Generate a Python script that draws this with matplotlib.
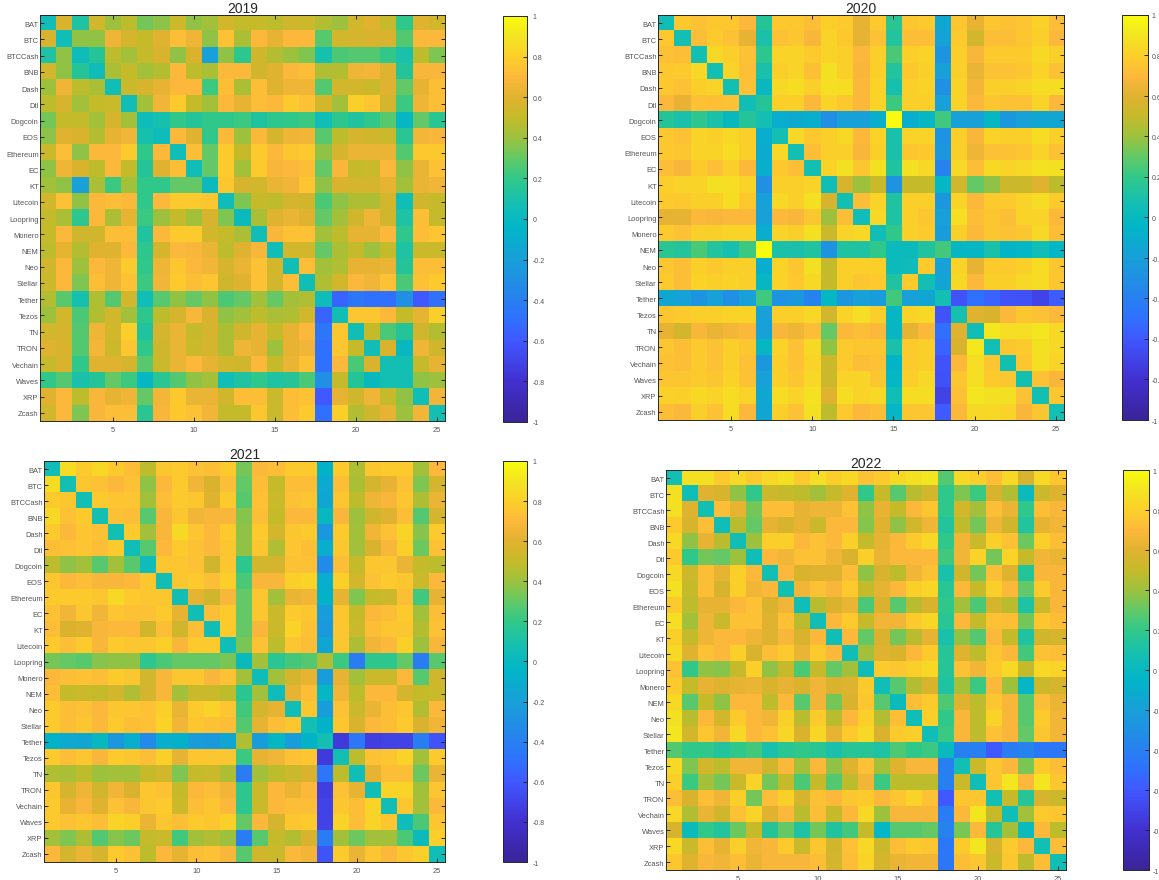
import numpy as np
import matplotlib
matplotlib.use('Agg')
import matplotlib.pyplot as plt
from matplotlib.colors import LinearSegmentedColormap
from matplotlib.transforms import ScaledTranslation

plt.rcParams['font.family'] = ['Liberation Sans', 'DejaVu Sans']

coins = ['BAT', 'BTC', 'BTCCash', 'BNB', 'Dash', 'Dtl', 'Dogcoin', 'EOS', 'Ethereum', 'EC', 'KT', 'Litecoin',
         'Loopring', 'Monero', 'NEM', 'Neo', 'Stellar', 'Tether', 'Tezos', 'TN', 'TRON', 'Vechain', 'Waves',
         'XRP', 'Zcash']
years = ['2019', '2020', '2021', '2022']
colorbar_ticks = [-1, -0.8, -0.6, -0.4, -0.2, 0, 0.2, 0.4, 0.6, 0.8, 1]
colorbar_labels = ['-1', '-0.8', '-0.6', '-0.4', '-0.2', '0', '0.2', '0.4', '0.6', '0.8', '1']

# upper triangle of each matrix, every row starts on the diagonal
corr_2019 = [
    [.05, .58, .12, .55, .40, .48, .33, .37, .53, .38, .42, .55, .50, .50, .48, .54, .53, .46, .40, .55, .60, .50, .20, .60, .55],
    [.05, .38, .38, .65, .57, .50, .60, .72, .65, .38, .74, .43, .70, .62, .70, .70, .28, .55, .56, .58, .58, .27, .70, .70],
    [.04, .15, .48, .42, .50, .58, .38, .58, -.20, .38, .18, .54, .46, .40, .35, .08, .25, .27, .27, .20, .10, .48, .35],
    [.04, .43, .50, .42, .46, .70, .48, .43, .70, .70, .54, .60, .70, .72, .45, .46, .65, .67, .60, .15, .68, .68],
    [.05, .52, .57, .63, .70, .70, .22, .72, .43, .72, .60, .65, .65, .27, .55, .55, .52, .60, .30, .62, .72],
    [.06, .42, .66, .78, .50, .42, .70, .62, .72, .70, .78, .74, .55, .42, .80, .75, .56, .22, .65, .72],
    [.04, .08, .20, .15, .20, .20, .22, .13, .18, .20, .22, .05, .18, .13, .20, .28, -.02, .30, .17],
    [.04, .70, .60, .20, .70, .40, .70, .56, .65, .66, .28, .48, .56, .54, .52, .17, .67, .68],
    [.05, .72, .30, .78, .50, .78, .70, .76, .78, .38, .57, .64, .64, .64, .27, .77, .77],
    [.05, .30, .78, .42, .78, .68, .70, .72, .30, .68, .50, .52, .70, .38, .64, .74],
    [.03, .76, .57, .55, .64, .66, .75, .38, .58, .56, .56, .62, .42, .64, .66],
    [.04, .35, .50, .48, .56, .54, .25, .38, .44, .44, .55, .05, .54, .50],
    [.03, .43, .60, .64, .60, .30, .42, .54, .65, .54, .12, .72, .50],
    [.05, .68, .74, .74, .42, .48, .62, .62, .70, .20, .72, .76],
    [.05, .55, .55, .30, .43, .50, .40, .50, .12, .52, .52],
    [.06, .72, .42, .45, .63, .63, .64, .15, .72, .72],
    [.06, .45, .55, .70, .66, .74, .25, .74, .78],
    [.04, -.55, -.45, -.50, -.50, -.30, -.60, -.50],
    [.06, .76, .76, .70, .50, .62, .80],
    [.06, .50, .25, .15, .54, .46],
    [.06, .58, .00, .65, .54],
    [.07, .07, .50, .62],
    [.07, .38, .40],
    [.05, .66],
    [.07],
]

corr_2020 = [
    [.05, .77, .74, .77, .77, .70, .15, .77, .77, .72, .79, .78, .62, .78, .17, .76, .78, -.15, .76, .63, .76, .74, .75, .81, .72],
    [.07, .72, .78, .74, .63, .10, .74, .76, .68, .82, .77, .62, .74, .14, .72, .72, -.18, .78, .55, .72, .72, .76, .80, .70],
    [.07, .84, .80, .74, .18, .82, .82, .78, .82, .80, .70, .80, .25, .80, .82, -.27, .80, .68, .78, .78, .78, .85, .80],
    [.07, .82, .73, .10, .80, .82, .73, .88, .80, .68, .80, .14, .77, .80, -.20, .80, .64, .74, .74, .76, .82, .74],
    [.07, .74, .00, .84, .86, .80, .87, .86, .70, .82, .08, .80, .82, -.30, .82, .67, .80, .80, .82, .86, .86],
    [.06, .15, .80, .80, .70, .82, .77, .70, .82, .22, .80, .80, -.20, .82, .70, .76, .74, .74, .82, .70],
    [.07, -.10, -.12, -.10, -.30, -.20, -.20, -.10, 1.0, -.10, -.02, .23, -.20, -.20, -.02, -.25, -.20, -.15, -.15],
    [.07, .84, .77, .80, .84, .70, .82, .10, .82, .82, -.28, .80, .68, .82, .80, .80, .86, .80],
    [.07, .72, .80, .80, .68, .80, .10, .76, .77, -.25, .80, .65, .74, .74, .76, .82, .74],
    [.07, .82, .88, .76, .88, .13, .88, .84, -.38, .84, .72, .85, .82, .84, .89, .88],
    [.05, .57, .40, .52, -.28, .50, .50, -.03, .55, .30, .38, .53, .53, .60, .48],
    [.07, .72, .82, .13, .80, .80, -.25, .82, .70, .78, .78, .82, .86, .78],
    [.05, .84, .12, .80, .76, -.20, .87, .72, .76, .72, .82, .82, .70],
    [.05, .20, .80, .78, -.22, .80, .70, .76, .74, .76, .84, .72],
    [.02, .03, .13, .24, -.02, -.02, .10, -.04, -.03, .05, -.03],
    [.04, .78, -.20, .82, .62, .78, .78, .80, .86, .76],
    [.07, -.16, .84, .70, .80, .80, .84, .86, .76],
    [.07, -.62, -.50, -.55, -.62, -.63, -.70, -.58],
    [.08, .60, .58, .70, .76, .74, .70],
    [.06, .92, .87, .87, .90, .84],
    [.07, .76, .78, .88, .84],
    [.07, .76, .88, .82],
    [.07, .74, .68],
    [.07, .76],
    [.07],
]

corr_2021 = [
    [.05, .86, .78, .85, .78, .72, .48, .76, .78, .74, .72, .78, .33, .70, .72, .78, .78, -.05, .78, .45, .76, .78, .78, .42, .70],
    [.07, .76, .74, .70, .74, .38, .70, .78, .66, .58, .72, .30, .72, .50, .72, .72, -.13, .72, .43, .56, .63, .74, .35, .56],
    [.07, .78, .75, .75, .42, .72, .78, .76, .60, .78, .28, .74, .52, .74, .76, -.15, .76, .48, .65, .68, .76, .44, .64],
    [.07, .74, .72, .28, .68, .76, .66, .68, .68, .36, .72, .50, .70, .70, .00, .68, .40, .54, .60, .72, .27, .56],
    [.07, .78, .42, .68, .85, .75, .70, .78, .38, .78, .55, .76, .78, -.25, .78, .42, .66, .74, .82, .36, .78],
    [.05, .28, .70, .78, .74, .70, .76, .38, .76, .45, .75, .72, -.10, .76, .42, .58, .68, .80, .32, .74],
    [.04, .76, .76, .74, .54, .76, .18, .55, .56, .74, .74, -.33, .72, .50, .76, .76, .64, .50, .48],
    [.06, .76, .78, .72, .80, .25, .68, .68, .80, .82, -.10, .80, .55, .74, .78, .76, .52, .70],
    [.06, .62, .54, .68, .30, .76, .42, .64, .66, -.07, .62, .35, .50, .53, .72, .23, .62],
    [.06, .72, .78, .30, .76, .52, .78, .76, -.22, .76, .50, .70, .72, .78, .42, .72],
    [.06, .78, .30, .68, .52, .82, .74, -.24, .76, .52, .72, .76, .76, .46, .74],
    [.05, .34, .74, .48, .75, .72, -.15, .76, .44, .66, .70, .80, .40, .68],
    [.01, .42, .17, .24, .27, .45, .22, -.42, .18, .18, .30, -.42, .28],
    [.04, .42, .56, .62, -.22, .62, .42, .52, .52, .70, .28, .54],
    [.04, .62, .72, -.02, .66, .48, .70, .70, .56, .50, .52],
    [.06, .76, -.22, .74, .52, .64, .72, .76, .46, .70],
    [.07, -.05, .76, .58, .70, .72, .78, .58, .66],
    [.07, -.75, -.45, -.72, -.70, -.70, -.42, -.62],
    [.07, .48, .74, .76, .82, .42, .78],
    [.05, .62, .72, .72, .32, .64],
    [.06, .82, .82, .42, .76],
    [.06, .76, .42, .70],
    [.04, .25, .76],
    [.03, .80],
    [.05],
]

corr_2022 = [
    [.07, .88, .88, .78, .84, .78, .84, .88, .78, .87, .80, .85, .74, .78, .85, .88, .90, .27, .84, .80, .72, .84, .57, .85, .76],
    [.05, .60, .57, .38, .20, .53, .50, .48, .42, .50, .60, .20, .50, .28, .47, .55, .20, .35, .22, .58, .45, .03, .52, .60],
    [.07, .72, .62, .33, .72, .72, .62, .65, .65, .74, .38, .63, .50, .70, .76, .20, .55, .42, .72, .64, .20, .72, .68],
    [.06, .47, .30, .62, .57, .63, .52, .70, .70, .36, .60, .38, .55, .66, .14, .48, .33, .65, .54, .14, .62, .66],
    [.06, .40, .80, .80, .70, .74, .70, .80, .50, .62, .70, .78, .84, .20, .66, .52, .80, .74, .32, .80, .72],
    [.05, .70, .66, .74, .74, .65, .58, .80, .64, .70, .70, .70, .24, .66, .82, .33, .82, .50, .66, .64],
    [.07, .70, .58, .60, .60, .72, .38, .58, .48, .66, .74, .10, .54, .33, .72, .60, .15, .68, .68],
    [.07, .66, .74, .68, .78, .50, .62, .70, .80, .83, .17, .70, .50, .80, .70, .30, .78, .68],
    [.06, .47, .58, .64, .25, .58, .28, .47, .58, .20, .42, .25, .56, .47, .12, .52, .68],
    [.06, .70, .78, .50, .66, .66, .78, .83, .17, .70, .50, .74, .72, .33, .76, .72],
    [.06, .70, .30, .58, .33, .47, .62, .10, .38, .27, .70, .50, .13, .54, .56],
    [.06, .42, .60, .58, .70, .78, .16, .60, .48, .76, .70, .24, .74, .72],
    [.04, .78, .76, .80, .84, .16, .74, .66, .78, .84, .50, .84, .82],
    [.06, .28, .46, .58, .12, .42, .22, .70, .40, -.03, .53, .56],
    [.03, .72, .78, .26, .60, .48, .76, .68, .28, .72, .64],
    [.05, .80, .20, .68, .48, .82, .68, .28, .78, .66],
    [.05, .22, .68, .48, .74, .68, .30, .76, .66],
    [.01, -.40, -.40, -.60, -.42, -.38, -.45, -.45],
    [.07, .52, .76, .70, .34, .78, .72],
    [.05, .76, .90, .70, .90, .76],
    [.07, .50, .16, .57, .53],
    [.05, .42, .78, .76],
    [.03, .70, .48],
    [.07, .72],
    [.06],
]

parula_like = LinearSegmentedColormap.from_list('parula_like', [
    (0.000, '#3a2498'), (0.100, '#4230d0'), (0.200, '#4058ff'), (0.250, '#3070ff'), (0.300, '#2880f0'),
    (0.400, '#18a0d8'), (0.475, '#02b4c8'), (0.525, '#10bdb8'), (0.600, '#30c88a'),
    (0.650, '#62c966'), (0.700, '#9cc23e'), (0.750, '#c4bb2a'), (0.800, '#dfb22f'),
    (0.850, '#fdb83c'), (0.900, '#fccf2a'), (0.950, '#f3e422'), (1.000, '#f9fb0e')], N=256)

W, H = 1159, 880
# left, right, top, bottom in pixels
axes_px = [(40, 445, 15, 421), (658, 1064, 15, 420), (44, 445, 461, 862), (666, 1066, 470, 870)]
cbar_px = [(503, 527, 16, 422), (1122, 1148, 15, 420), (503, 527, 461, 862), (1123, 1149, 470, 870)]
cbar_pad = [4, 2.8, 4, 2.8]
gray = '#555555'


def full_matrix(rows):
    m = np.zeros((25, 25))
    for i, row in enumerate(rows):
        m[i, i:] = row
        m[i:, i] = row
    return m


def add_axes_px(fig, box):
    l, r, t, b = box
    return fig.add_axes([l / W, 1 - b / H, (r - l) / W, (b - t) / H])


fig = plt.figure(figsize=(W / 100, H / 100), dpi=100)
# tick labels sit about a pixel under their ticks in the original
down = ScaledTranslation(0, -1 / 100, fig.dpi_scale_trans)

for k, rows in enumerate([corr_2019, corr_2020, corr_2021, corr_2022]):
    ax = add_axes_px(fig, axes_px[k])
    im = ax.imshow(full_matrix(rows), cmap=parula_like, vmin=-1, vmax=1, aspect='auto',
                   interpolation='nearest', extent=(0.5, 25.5, 25.5, 0.5))
    ax.set_title(years[k], fontsize=10, pad=1.5, color='#262626')
    ax.set_xticks([5, 10, 15, 20, 25])
    ax.set_yticks(range(1, 26))
    ax.set_yticklabels(coins)
    ax.tick_params(direction='in', length=3, width=0.7, top=True, right=True, labelsize=5.4,
                   labelcolor=gray, color='#262626')
    ax.tick_params(axis='x', pad=4.2)
    ax.tick_params(axis='y', pad=1)
    for lab in ax.get_yticklabels():
        lab.set_transform(lab.get_transform() + down)
    for s in ax.spines.values():
        s.set_linewidth(0.7)
        s.set_color('#262626')

    cax = add_axes_px(fig, cbar_px[k])
    cb = fig.colorbar(im, cax=cax)
    cb.set_ticks(colorbar_ticks)
    cb.set_ticklabels(colorbar_labels)
    cb.ax.tick_params(direction='in', length=3, width=0.7, labelsize=5, labelcolor=gray, color='#262626',
                      pad=cbar_pad[k])
    for lab in cb.ax.get_yticklabels():
        lab.set_transform(lab.get_transform() + down)
    cb.outline.set_linewidth(0.7)
    cb.outline.set_edgecolor('#262626')

fig.savefig('out.png', dpi=100)
